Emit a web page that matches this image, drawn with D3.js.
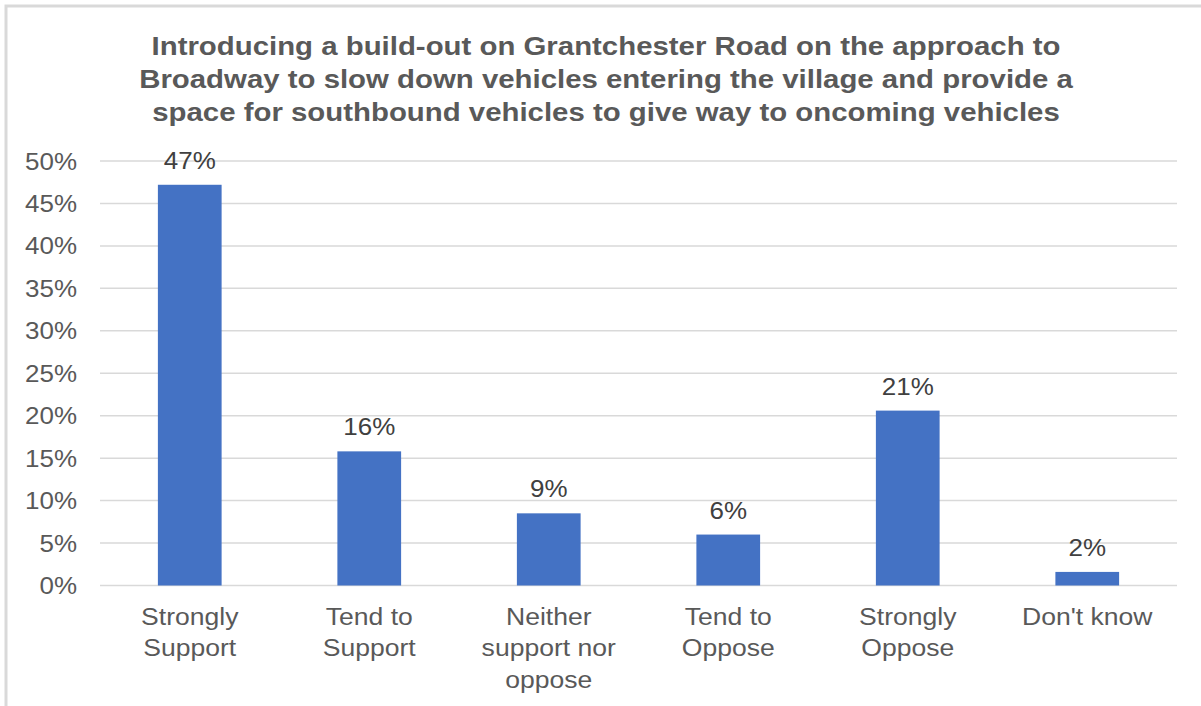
<!DOCTYPE html>
<html>
<head>
<meta charset="utf-8">
<script src="https://cdn.jsdelivr.net/npm/d3@7"></script>
<style>
  html, body { margin: 0; padding: 0; background: #fff; }
  svg { display: block; }
  text { font-family: "Liberation Sans", Arial, sans-serif; fill: #595959; }
</style>
</head>
<body>
<svg id="chart" width="1201" height="706"></svg>
<script>
// Survey responses (share of respondents)
const categories = [
  ["Strongly", "Support"],
  ["Tend to", "Support"],
  ["Neither", "support nor", "oppose"],
  ["Tend to", "Oppose"],
  ["Strongly", "Oppose"],
  ["Don't know"]
];
const values = [0.472, 0.158, 0.085, 0.060, 0.206, 0.016];
const yTicks = [0, 0.05, 0.10, 0.15, 0.20, 0.25, 0.30, 0.35, 0.40, 0.45, 0.50];
const titleLines = [
  "Introducing a build-out on Grantchester Road on the approach to",
  "Broadway to slow down vehicles entering the village and provide a",
  "space for southbound vehicles to give way to oncoming vehicles"
];

const W = 1201, H = 706;
const SX = 1.13; // horizontal text stretch, wide-set typeface
const svg = d3.select("#chart");

// Chart frame
svg.append("rect").attr("x", 6).attr("y", 6).attr("width", W + 10).attr("height", H + 10)
  .attr("fill", "none").attr("stroke", "#d9d9d9").attr("stroke-width", 3);

const plot = { left: 100, right: 1177, top: 161, bottom: 585.5 };

const x = d3.scaleBand()
  .domain(d3.range(categories.length))
  .range([plot.left, plot.right])
  .paddingInner(0.645)
  .paddingOuter(0.3225);

const y = d3.scaleLinear().domain([0, 0.5]).range([plot.bottom, plot.top]);

// Title
svg.append("g")
  .attr("transform", `translate(606,0) scale(${SX},1)`)
  .append("text")
  .attr("text-anchor", "middle")
  .attr("font-size", 26)
  .attr("font-weight", "bold")
  .selectAll("tspan")
  .data(titleLines)
  .join("tspan")
  .attr("x", 0)
  .attr("y", (d, i) => 55 + i * 33)
  .style("fill", "#595959")
  .text(d => d);

// Gridlines
svg.append("g")
  .selectAll("line")
  .data(yTicks)
  .join("line")
  .attr("x1", plot.left).attr("x2", plot.right)
  .attr("y1", d => y(d)).attr("y2", d => y(d))
  .attr("stroke", "#d9d9d9").attr("stroke-width", 1.5);

// Y axis labels
const yAxis = d3.axisLeft(y).tickValues(yTicks).tickFormat(d3.format(".0%")).tickSize(0).tickPadding(0);
const yg = svg.append("g").attr("transform", `translate(77,0)`).call(yAxis);
yg.select(".domain").remove();
yg.selectAll("text")
  .attr("font-size", 23)
  .attr("dy", "0.35em")
  .attr("transform", `scale(${SX},1)`)
  .style("fill", "#595959")
  .style("font-family", "'Liberation Sans', Arial, sans-serif");

// Bars
svg.append("g")
  .selectAll("rect")
  .data(values)
  .join("rect")
  .attr("x", (d, i) => x(i))
  .attr("width", x.bandwidth())
  .attr("y", d => y(d))
  .attr("height", d => y(0) - y(d))
  .attr("fill", "#4472c4");

// Data labels
svg.append("g")
  .selectAll("text")
  .data(values)
  .join("text")
  .attr("transform", (d, i) => `translate(${x(i) + x.bandwidth() / 2},${y(d) - 16}) scale(${SX},1)`)
  .attr("text-anchor", "middle")
  .attr("font-size", 23)
  .style("fill", "#404040")
  .text(d => d3.format(".0%")(d));

// Category labels
const cat = svg.append("g")
  .selectAll("text")
  .data(categories)
  .join("text")
  .attr("transform", (d, i) => `translate(${x(i) + x.bandwidth() / 2},0) scale(${SX},1)`)
  .attr("text-anchor", "middle")
  .attr("font-size", 23.5);
cat.selectAll("tspan")
  .data(d => d)
  .join("tspan")
  .attr("x", 0)
  .attr("y", (d, j) => 625 + j * 31.5)
  .style("fill", "#595959")
  .text(d => d);
</script>
</body>
</html>
